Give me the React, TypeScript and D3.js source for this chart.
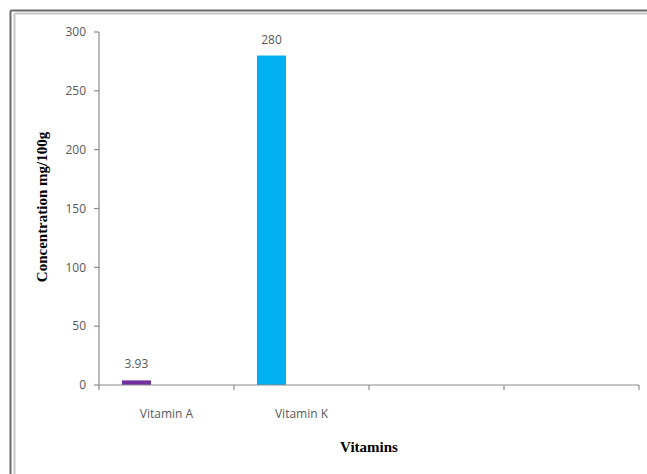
import React from "react";
import * as d3 from "d3";

const categories = ["Vitamin A", "Vitamin K", "", ""];
const values = [3.93, 280];
const valueLabels = ["3.93", "280"];
const barColors = ["#7030A0", "#00B0F0"];
const yTicks = [0, 50, 100, 150, 200, 250, 300];

const W = 647, H = 474;
const plot = { left: 99, right: 639, top: 32, bottom: 385 };

export default function App() {
  const x = d3.scaleBand<number>().domain(d3.range(categories.length)).range([plot.left, plot.right]).padding(0);
  const y = d3.scaleLinear().domain([0, 300]).range([plot.bottom, plot.top]);
  const bw = x.bandwidth();
  const barW = bw * 0.215;
  const barOff = bw * 0.17;
  const tickFont = "'Open Sans', 'DejaVu Sans', sans-serif";
  const titleFont = "'Liberation Serif', 'Times New Roman', serif";
  return (
    <svg width={W} height={H} style={{ position: "absolute", left: 0, top: 0, background: "#fff" }}>
      <rect x={0} y={0} width={W} height={H} fill="#fff" />
      {/* frame */}
      <line x1={10.5} y1={10.5} x2={W} y2={10.5} stroke="#6b6b6b" strokeWidth={2} />
      <line x1={10.5} y1={10.5} x2={10.5} y2={H} stroke="#6b6b6b" strokeWidth={2} />
      <line x1={14.5} y1={13.5} x2={W} y2={13.5} stroke="#c8c8c8" strokeWidth={2} />
      <line x1={14.5} y1={13.5} x2={14.5} y2={H} stroke="#c8c8c8" strokeWidth={2} />
      {/* y axis */}
      <line x1={plot.left} y1={plot.top} x2={plot.left} y2={plot.bottom} stroke="#8c8c8c" strokeWidth={1.2} />
      {yTicks.map((t) => (
        <g key={t}>
          <line x1={plot.left - 5} x2={plot.left} y1={y(t)} y2={y(t)} stroke="#8c8c8c" strokeWidth={1.2} />
          <text x={plot.left - 13} y={y(t)} dy="0.35em" textAnchor="end" fontFamily={tickFont} fontSize={12} fill="#595959">{t}</text>
        </g>
      ))}
      {/* bars */}
      {values.map((v, i) => (
        <g key={i}>
          <rect x={(x(i) as number) + barOff} y={y(v)} width={barW} height={y(0) - y(v)} fill={barColors[i]} />
          <text x={(x(i) as number) + barOff + barW / 2} y={y(v) - 12} textAnchor="middle" fontFamily={tickFont} fontSize={12} fill="#595959">{valueLabels[i]}</text>
        </g>
      ))}
      {/* x axis */}
      <line x1={plot.left} y1={plot.bottom} x2={plot.right} y2={plot.bottom} stroke="#8c8c8c" strokeWidth={1.2} />
      {d3.range(categories.length + 1).map((i) => {
        const xx = plot.left + i * bw;
        return <line key={i} x1={xx} x2={xx} y1={plot.bottom} y2={plot.bottom + 5} stroke="#8c8c8c" strokeWidth={1.2} />;
      })}
      {categories.map((c, i) => (
        <text key={i} x={(x(i) as number) + bw / 2} y={418} textAnchor="middle" fontFamily={tickFont} fontSize={12} fill="#595959">{c}</text>
      ))}
      {/* titles */}
      <text x={369} y={452} textAnchor="middle" fontFamily={titleFont} fontWeight="bold" fontSize={15} fill="#000">Vitamins</text>
      <text transform={`translate(47,207) rotate(-90)`} textAnchor="middle" fontFamily={titleFont} fontWeight="bold" fontSize={15} fill="#000">Concentration mg/100g</text>
    </svg>
  );
}
